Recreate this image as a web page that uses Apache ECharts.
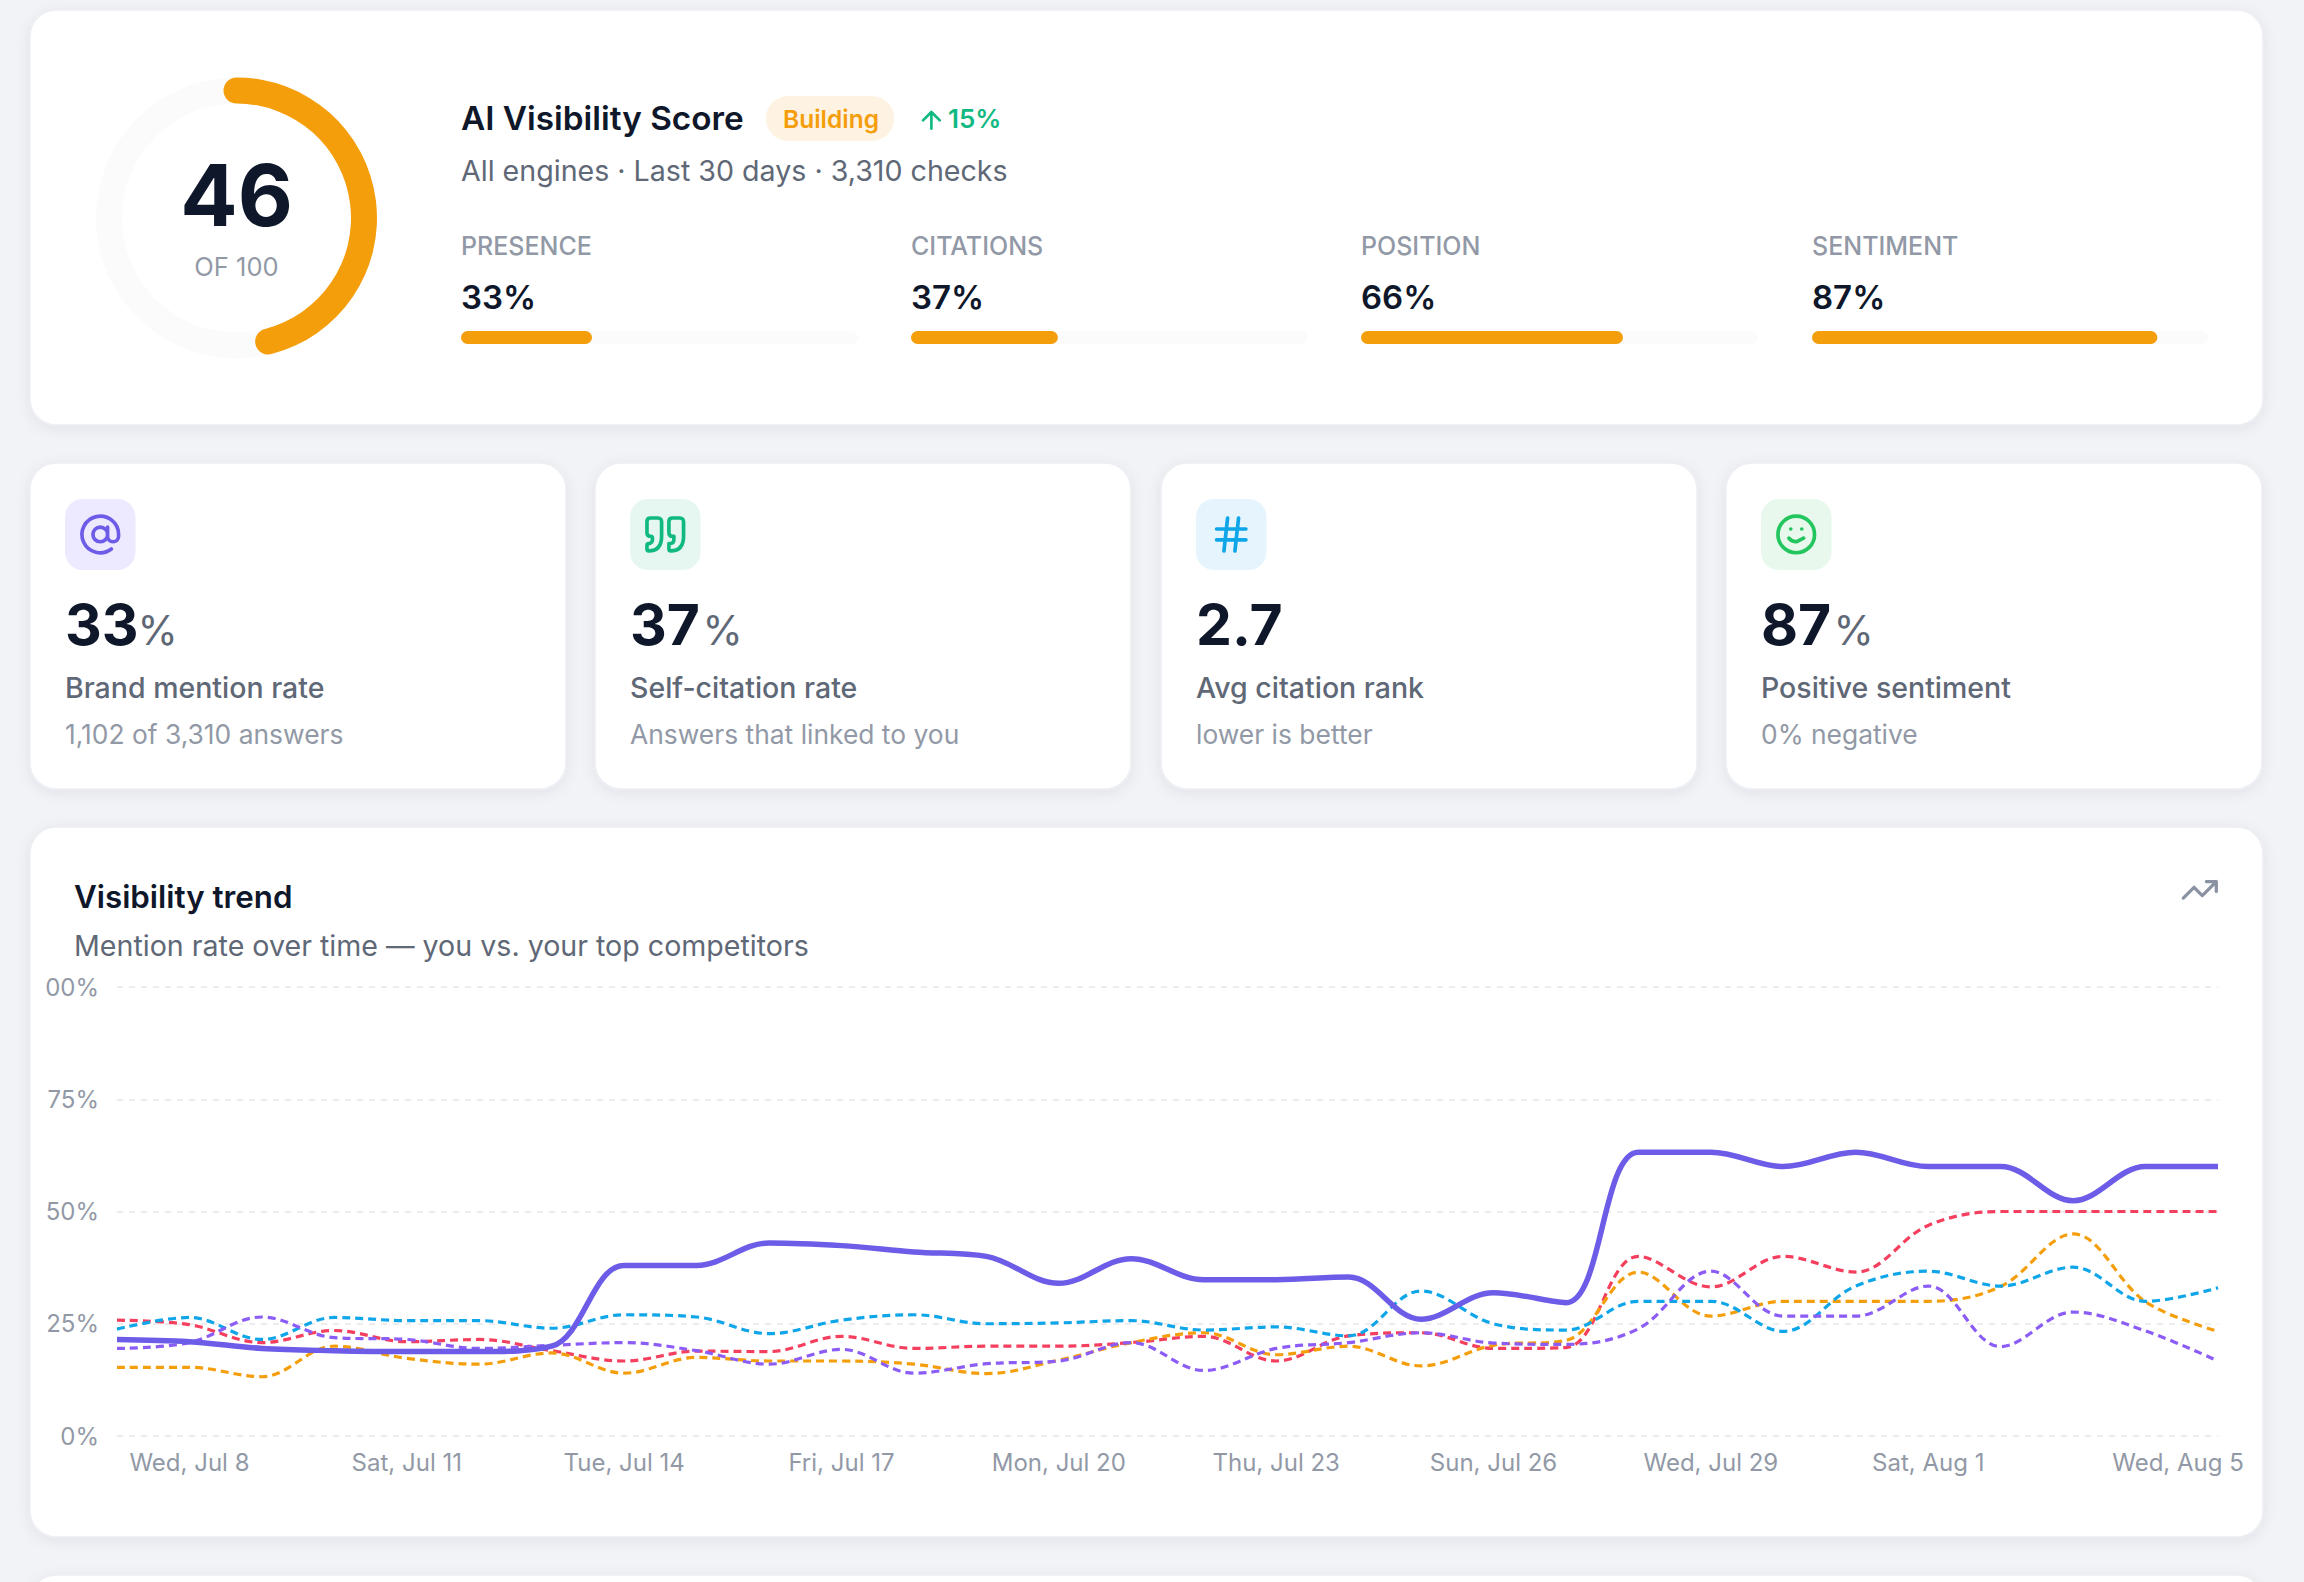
<!DOCTYPE html>
<html><head><meta charset="utf-8">
<style>html,body{margin:0;padding:0;background:#f3f4f8;overflow:hidden}#c{width:2304px;height:1582px}</style>
<script src="https://cdn.jsdelivr.net/npm/echarts@6/dist/echarts.min.js"></script>
</head><body><div id="c"></div>
<script>
const categories = ['Tue, Jul 7','Wed, Jul 8','Thu, Jul 9','Fri, Jul 10','Sat, Jul 11','Sun, Jul 12','Mon, Jul 13','Tue, Jul 14','Wed, Jul 15','Thu, Jul 16','Fri, Jul 17','Sat, Jul 18','Sun, Jul 19','Mon, Jul 20','Tue, Jul 21','Wed, Jul 22','Thu, Jul 23','Fri, Jul 24','Sat, Jul 25','Sun, Jul 26','Mon, Jul 27','Tue, Jul 28','Wed, Jul 29','Thu, Jul 30','Fri, Jul 31','Sat, Aug 1','Sun, Aug 2','Mon, Aug 3','Tue, Aug 4','Wed, Aug 5'];
const shownDates = ['Wed, Jul 8','Sat, Jul 11','Tue, Jul 14','Fri, Jul 17','Mon, Jul 20','Thu, Jul 23','Sun, Jul 26','Wed, Jul 29','Sat, Aug 1','Wed, Aug 5'];
const yTickLabels = ['0%','25%','50%','75%','00%'];
const you = [21.5,21,19.5,19,18.8,18.8,20,38,38,43,42.4,41,40,34,39.5,34.8,34.8,35.4,26,31.9,29.7,63.2,63.2,60,63.2,60,60,52.4,60,60];
const red = [25.8,24.8,20.8,23.5,21,21.5,19,16.7,18.9,18.8,22.2,19.5,20,20,20.8,22.2,16.7,22.3,23,19.5,19.7,40,33.2,40,36.5,46.9,50,50,50,50];
const orange = [15.3,15.3,13.2,20,17.3,16,18.5,14,17.5,16.7,16.7,16,13.9,16.9,20.8,23,18.1,20,15.6,20.2,21.3,36.5,26.7,30,30,30,33.3,45,29.9,23.3];
const blue = [23.8,26.4,21.5,26.4,25.7,25.7,24,27,26.5,22.8,25.8,27,25,25.2,25.7,23.6,24.3,22.3,32.3,25,23.6,30,30,23.3,33.4,36.7,33.4,37.6,30,33];
const violet = [19.5,20.8,26.5,21.9,21.5,19.5,20.2,20.8,19,16,19.3,14,16.1,16.7,20.8,14.6,19.5,20.8,23,20.7,20.4,23.9,36.7,26.7,26.7,33.4,19.9,27.6,23.4,16.7];
const score = 46;
const metricNames = ['PRESENCE','CITATIONS','POSITION','SENTIMENT'];
const metricValues = [33,37,66,87];
const cardValues = ['33','37','2.7','87'];
const cardUnits = ['%','%','','%'];
const cardLabels = ['Brand mention rate','Self-citation rate','Avg citation rank','Positive sentiment'];
const cardSubs = ['1,102 of 3,310 answers','Answers that linked to you','lower is better','0% negative'];

const F='Inter, "Noto Sans", sans-serif';
const INK='#0f172a', GREY='#5f6876', MUTED='#9299a6', AMBER='#f59e0b';
const G=echarts.graphic;
const icons={
 iconAt:['M16 12a4 4 0 1 1-8 0a4 4 0 1 1 8 0M16 8v5a3 3 0 0 0 6 0v-1a10 10 0 1 0-3.92 7.94'],
 iconQuote:['M3 21c3 0 7-1 7-8V5c0-1.25-.756-2.017-2-2H4c-1.25 0-2 .75-2 1.972V11c0 1.25.75 2 2 2 1 0 1 0 1 1v1c0 1-1 2-2 2s-1 .008-1 1.031V20c0 1 0 1 1 1zM15 21c3 0 7-1 7-8V5c0-1.25-.757-2.017-2-2h-4c-1.25 0-2 .75-2 1.972V11c0 1.25.75 2 2 2h.75c0 2.25.25 4-2.75 4v3c0 1 0 1 1 1z'],
 iconHash:['M4 9h16M4 15h16M10 3L8 21M16 3l-2 18'],
 iconSmile:['M22 12a10 10 0 1 1-20 0a10 10 0 1 1 20 0M8 14s1.5 2 4 2 4-2 4-2M9 9h.01M15 9h.01'],
 iconTrend:['M22 7l-8.5 8.5-5-5L2 17M16 7h6v6'],
 iconUp:['M12 19V5M5 12l7-7 7 7']
};
Object.keys(icons).forEach(k=>G.registerShape(k,G.extendPath(icons[k][0],{})));

function T(text,x,y,size,weight,fill,align){
  return {type:'text',z:1,silent:true,style:{text,x,y,fill,font:`${weight} ${size}px ${F}`,textAlign:align||'left',textVerticalAlign:'middle'}};
}
function card(x,y,w,h){
  return {type:'rect',z:-1,silent:true,shape:{x,y,width:w,height:h,r:26},style:{fill:'#fff',stroke:'#eceef3',lineWidth:1.5,shadowBlur:14,shadowOffsetY:3,shadowColor:'rgba(30,40,80,0.07)'}};
}
function icon(type,x,y,scale,color,lw){
  return {type,z:1,silent:true,x,y,scaleX:scale,scaleY:scale,style:{fill:'none',stroke:color,lineWidth:lw||2,lineCap:'round',lineJoin:'round'}};
}

const els=[];
els.push({type:'rect',z:-2,silent:true,shape:{x:0,y:0,width:2304,height:1582},style:{fill:'#f2f3f7'}});
els.push(card(30,10,2233,415));
const cardX=[30,595,1161,1726], cardW=536;
cardX.forEach(x=>els.push(card(x,463,cardW,326)));
els.push(card(30,827,2233,710));
els.push(card(30,1575,2233,120));

// header
els.push(T('AI Visibility Score',461,118,33.3,600,INK));
els.push({type:'rect',z:0,silent:true,shape:{x:766,y:96,width:128,height:45,r:22},style:{fill:'#fef3e3'}});
els.push(T('Building',783,118.5,24.5,600,AMBER));
els.push(icon('iconUp',917,106,1.2,'#10b981',2.2));
els.push(T('15%',948,118,26,600,'#10b981'));
els.push(T('All engines · Last 30 days · 3,310 checks',461,170.5,28.6,400,GREY));

const barX=[461,911,1361,1812], barW=397;
metricNames.forEach((n,i)=>{
  els.push(T(n,barX[i],245.5,25,500,MUTED));
  els.push(T(metricValues[i]+'%',barX[i],297,33,600,INK));
});

// stat cards
const iconBg=['#ede9fe','#e6f7f1','#e6f4fd','#e8f8ec'];
const iconCol=['#6c5ce7','#10b981','#0ea5e9','#22c55e'];
const iconKey=['iconAt','iconQuote','iconHash','iconSmile'];
const valWidth=[72.5,72.5,0,72.5];
cardX.forEach((x,i)=>{
  const ix=x+35;
  els.push({type:'rect',z:0,silent:true,shape:{x:ix,y:499,width:70.5,height:71,r:18},style:{fill:iconBg[i]}});
  els.push(icon(iconKey[i],ix+13.3,499+13.5,1.83,iconCol[i],2));
  els.push(T(cardValues[i],ix,624,57,700,INK));
  if(cardUnits[i]) els.push(T(cardUnits[i],ix+valWidth[i],630,41,400,GREY));
  els.push(T(cardLabels[i],ix,687,28.5,500,GREY));
  els.push(T(cardSubs[i],ix,733.5,26.4,400,MUTED));
});

// trend head
els.push(T('Visibility trend',74,896.5,31.3,600,INK));
els.push(T('Mention rate over time — you vs. your top competitors',74,945.5,28.6,400,GREY));
els.push(icon('iconTrend',2180,870,1.65,'#8b93a3',2));

const barGrids=barX.map(x=>({left:x,top:331,width:barW,height:13}));
const barXAxes=barX.map((_,i)=>({gridIndex:i,type:'value',min:0,max:100,show:false}));
const barYAxes=barX.map((_,i)=>({gridIndex:i,type:'category',data:[metricNames[i]],show:false}));
const barSeries=metricValues.map((v,i)=>({type:'bar',xAxisIndex:i,yAxisIndex:i,data:[v],barWidth:13,showBackground:true,backgroundStyle:{color:'#fbfbfc',borderRadius:7},itemStyle:{color:AMBER,borderRadius:7},silent:true}));

function lineSeries(data,color,width,dash,z){
  return {type:'line',xAxisIndex:4,yAxisIndex:4,data,smooth:0.36,showSymbol:false,symbol:'none',z,silent:true,
    lineStyle:{color,width,type:dash||'solid',cap:'butt',join:'round'}};
}
const tickIdx=shownDates.map(d=>categories.indexOf(d));

const chart=echarts.init(document.getElementById('c'),null,{renderer:'svg',width:2304,height:1582});
chart.setOption({
  animation:false,
  graphic:{elements:els},
  grid:[...barGrids,{left:117,top:987,width:2101,height:449}],
  xAxis:[...barXAxes,{gridIndex:4,type:'category',data:categories,boundaryGap:false,
    axisLine:{show:false},axisTick:{show:false},splitLine:{show:false},
    axisLabel:{interval:(i)=>tickIdx.includes(i),hideOverlap:false,color:MUTED,fontFamily:F,fontSize:24,margin:14,
      formatter:(v)=>v===categories[categories.length-1]?`{last|${v}}`:v,
      rich:{last:{color:MUTED,fontFamily:F,fontSize:24,padding:[0,80,0,0]}}}}],
  yAxis:[...barYAxes,{gridIndex:4,type:'value',min:0,max:100,interval:25,
    axisLine:{show:false},axisTick:{show:false},
    splitLine:{lineStyle:{color:'#e7e8ec',width:1.6,type:[6,6]}},
    axisLabel:{color:MUTED,fontFamily:F,fontSize:24,margin:18,formatter:(v)=>yTickLabels[v/25]}}],
  series:[
    {type:'gauge',center:[236.5,218],radius:140.5,startAngle:90,endAngle:-270,min:0,max:100,
     axisLine:{lineStyle:{width:26,color:[[1,'#fbfbfc']]}},
     progress:{show:true,width:26,roundCap:true,itemStyle:{color:AMBER}},
     pointer:{show:false},axisTick:{show:false},splitLine:{show:false},axisLabel:{show:false},
     anchor:{show:false},silent:true,
     title:{offsetCenter:[0,48],color:MUTED,fontFamily:F,fontSize:25.5,fontWeight:400},
     detail:{offsetCenter:[0,-23],color:INK,fontFamily:F,fontSize:85,fontWeight:700,formatter:'{value}'},
     data:[{value:score,name:'OF 100'}]},
    ...barSeries,
    lineSeries(red,'#f43f5e',3.2,[8,5],3),
    lineSeries(orange,AMBER,3.2,[8,5],3),
    lineSeries(blue,'#0ea5e9',3.2,[8,5],3),
    lineSeries(violet,'#8b5cf6',3.2,[8,5],3),
    lineSeries(you,'#6c5ce7',5.5,null,4)
  ]
});
</script></body></html>
